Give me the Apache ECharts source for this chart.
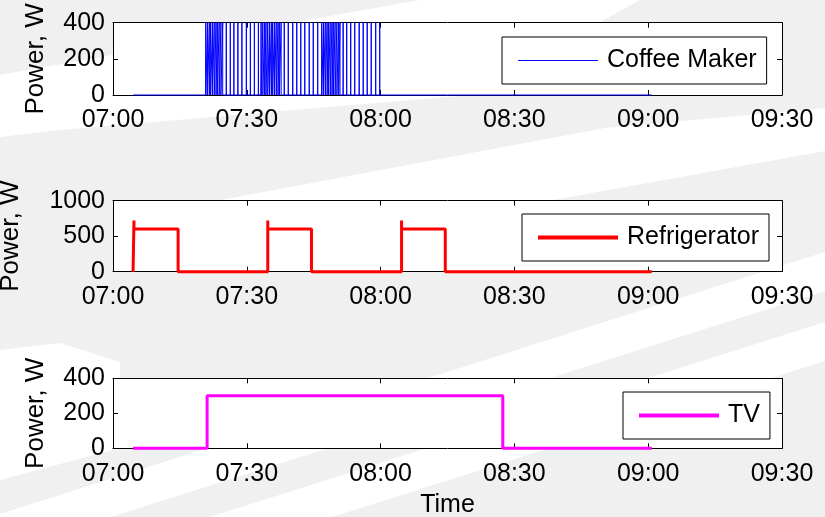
<!DOCTYPE html>
<html>
<head>
<meta charset="utf-8">
<script src="https://cdn.jsdelivr.net/npm/echarts@6/dist/echarts.min.js"></script>
<style>
  html, body { margin: 0; padding: 0; background: #f0f0f0; }
  #chart { width: 825px; height: 517px; }
</style>
</head>
<body>
<div id="chart"></div>
<script>
// Time is given in minutes after 07:00.
const tickLabels = ['07:00', '07:30', '08:00', '08:30', '09:00', '09:30'];
const logStart = 4.5;
const logEnd = 120.8;

// Coffee maker: heating element switching instants (minutes), each a 400 W pulse
const coffeeLevel = 400;
const coffeePulses = [
  20.8, 21.2, 21.6, 21.9, 22.3, 22.7, 23.1, 23.4, 23.8, 24.2,
  24.6, 25.4, 26.3, 27.1, 28.0, 28.9, 29.9, 30.8, 31.7, 32.6,
  33.2, 33.6, 34.0, 34.3, 34.7, 35.1, 35.5, 35.8, 36.2, 36.6, 37.0, 37.3, 37.7,
  38.4, 39.3, 40.3, 41.2, 42.1, 43.0, 44.0, 44.9, 45.9, 46.8,
  47.2, 47.6, 48.0, 48.3, 48.7, 49.1, 49.4, 49.8, 50.2, 50.6, 50.9,
  51.6, 52.4, 53.3, 54.2, 55.2, 56.1, 57.0, 57.9, 58.9, 59.8
];

// Refrigerator compressor cycles
const fridgeOn = [4.7, 34.7, 64.7];
const fridgeOff = [14.6, 44.5, 74.5];
const fridgeInrush = 720;
const fridgeLevel = 600;

// TV
const tvOn = [21.1];
const tvOff = [87.4];
const tvLevel = 300;

function coffeeData() {
  const d = [[logStart, 0]];
  coffeePulses.forEach(t => { d.push([t, 0], [t, coffeeLevel], [t, 0]); });
  d.push([logEnd, 0]);
  return d;
}
function fridgeData() {
  const d = [[logStart, 0]];
  fridgeOn.forEach((t, i) => {
    d.push([t, 0], [t, fridgeInrush], [t, fridgeLevel], [fridgeOff[i], fridgeLevel], [fridgeOff[i], 0]);
  });
  d.push([logEnd, 0]);
  return d;
}
function tvData() {
  const d = [[logStart, 0]];
  tvOn.forEach((t, i) => {
    d.push([t, 0], [t, tvLevel], [tvOff[i], tvLevel], [tvOff[i], 0]);
  });
  d.push([logEnd, 0]);
  return d;
}

const FONT = '"Liberation Sans", Arial, Helvetica, sans-serif';
const FS = 25;
const grids = [
  { left: 113, top: 22.7, width: 669, height: 72.3 },
  { left: 113, top: 200.7, width: 669, height: 71 },
  { left: 113, top: 378.3, width: 669, height: 70 }
];
const yMax = [400, 1000, 400];
const yStep = [200, 500, 200];
const nameGaps = [64, 89, 64];

const axisLineStyle = { show: true, onZero: false, lineStyle: { color: '#000', width: 1 } };
const tickStyle = { show: true, inside: true, length: 5, lineStyle: { color: '#000' } };

const xAxes = [], yAxes = [];
grids.forEach((g, i) => {
  xAxes.push({
    gridIndex: i, type: 'value', min: 0, max: 150, interval: 30, position: 'bottom',
    axisLine: axisLineStyle, axisTick: tickStyle, splitLine: { show: false },
    axisLabel: {
      show: true, margin: 13, fontSize: FS, fontFamily: FONT, color: '#000',
      showMinLabel: true, showMaxLabel: true, hideOverlap: false,
      formatter: v => tickLabels[Math.round(v / 30)]
    },
    name: i === 2 ? 'Time' : '', nameLocation: 'middle', nameGap: 44,
    nameTextStyle: { fontSize: FS, fontFamily: FONT, color: '#000' }
  });
  xAxes.push({
    gridIndex: i, type: 'value', min: 0, max: 150, interval: 30, position: 'top',
    axisLine: axisLineStyle, axisTick: tickStyle, splitLine: { show: false },
    axisLabel: { show: false }
  });
  yAxes.push({
    gridIndex: i, type: 'value', min: 0, max: yMax[i], interval: yStep[i], position: 'left',
    axisLine: axisLineStyle, axisTick: tickStyle, splitLine: { show: false },
    axisLabel: { show: true, margin: 8, fontSize: FS, fontFamily: FONT, color: '#000',
      showMinLabel: true, showMaxLabel: true, hideOverlap: false,
      formatter: v => String(v) },
    name: 'Power, W', nameLocation: 'middle', nameGap: nameGaps[i],
    nameTextStyle: { fontSize: FS + 1, fontFamily: FONT, color: '#000' }
  });
  yAxes.push({
    gridIndex: i, type: 'value', min: 0, max: yMax[i], interval: yStep[i], position: 'right',
    axisLine: axisLineStyle, axisTick: tickStyle, splitLine: { show: false },
    axisLabel: { show: false }
  });
});

// light diagonal bands on the figure background
const bands = [
  [[0, 75], [420, 0], [640, 0], [470, 95], [60, 130], [0, 137]],
  [[113, 222], [221, 200], [605, 128], [825, 108], [825, 151], [553, 200], [113, 262]],
  [[0, 350], [60, 343], [120, 362], [120, 448], [0, 480]],
  [[0, 514], [825, 252], [825, 291], [0, 552]],
  [[210, 517], [825, 322], [825, 361], [332, 517]]
];

const legendBase = {
  orient: 'horizontal', itemGap: 0, itemWidth: 80, icon: 'rect',
  backgroundColor: '#fff', borderColor: '#000', borderWidth: 1, borderRadius: 0,
  padding: [11, 10, 11, 16],
  textStyle: { fontSize: FS, fontFamily: FONT, color: '#000', padding: [0, 0, 0, 4] }
};

const option = {
  backgroundColor: '#f0f0f0',
  animation: false,
  graphic: bands.map(p => ({
    type: 'polygon', z: -10, silent: true,
    shape: { points: p }, style: { fill: '#ffffff' }
  })),
  grid: grids.map(g => Object.assign({
    show: true, backgroundColor: '#fff', borderWidth: 0,
    containLabel: false, outerBoundsMode: 'none'
  }, g)),
  xAxis: xAxes,
  yAxis: yAxes,
  legend: [
    Object.assign({}, legendBase, { data: ['Coffee Maker'], left: 502, top: 37, itemHeight: 1 }),
    Object.assign({}, legendBase, { data: ['Refrigerator'], left: 522, top: 214, itemHeight: 4 }),
    Object.assign({}, legendBase, { data: ['TV'], left: 623, top: 392, itemHeight: 4 })
  ],
  series: [
    { name: 'Coffee Maker', type: 'line', xAxisIndex: 0, yAxisIndex: 0, data: coffeeData(),
      symbol: 'none', clip: false, lineStyle: { color: '#0000ff', width: 1 }, itemStyle: { color: '#0000ff' } },
    { name: 'Refrigerator', type: 'line', xAxisIndex: 2, yAxisIndex: 2, data: fridgeData(),
      symbol: 'none', clip: false, lineStyle: { color: '#ff0000', width: 3 }, itemStyle: { color: '#ff0000' } },
    { name: 'TV', type: 'line', xAxisIndex: 4, yAxisIndex: 4, data: tvData(),
      symbol: 'none', clip: false, lineStyle: { color: '#ff00ff', width: 3 }, itemStyle: { color: '#ff00ff' } }
  ]
};

echarts.init(document.getElementById('chart'), null, { renderer: 'canvas' }).setOption(option);
</script>
</body>
</html>
